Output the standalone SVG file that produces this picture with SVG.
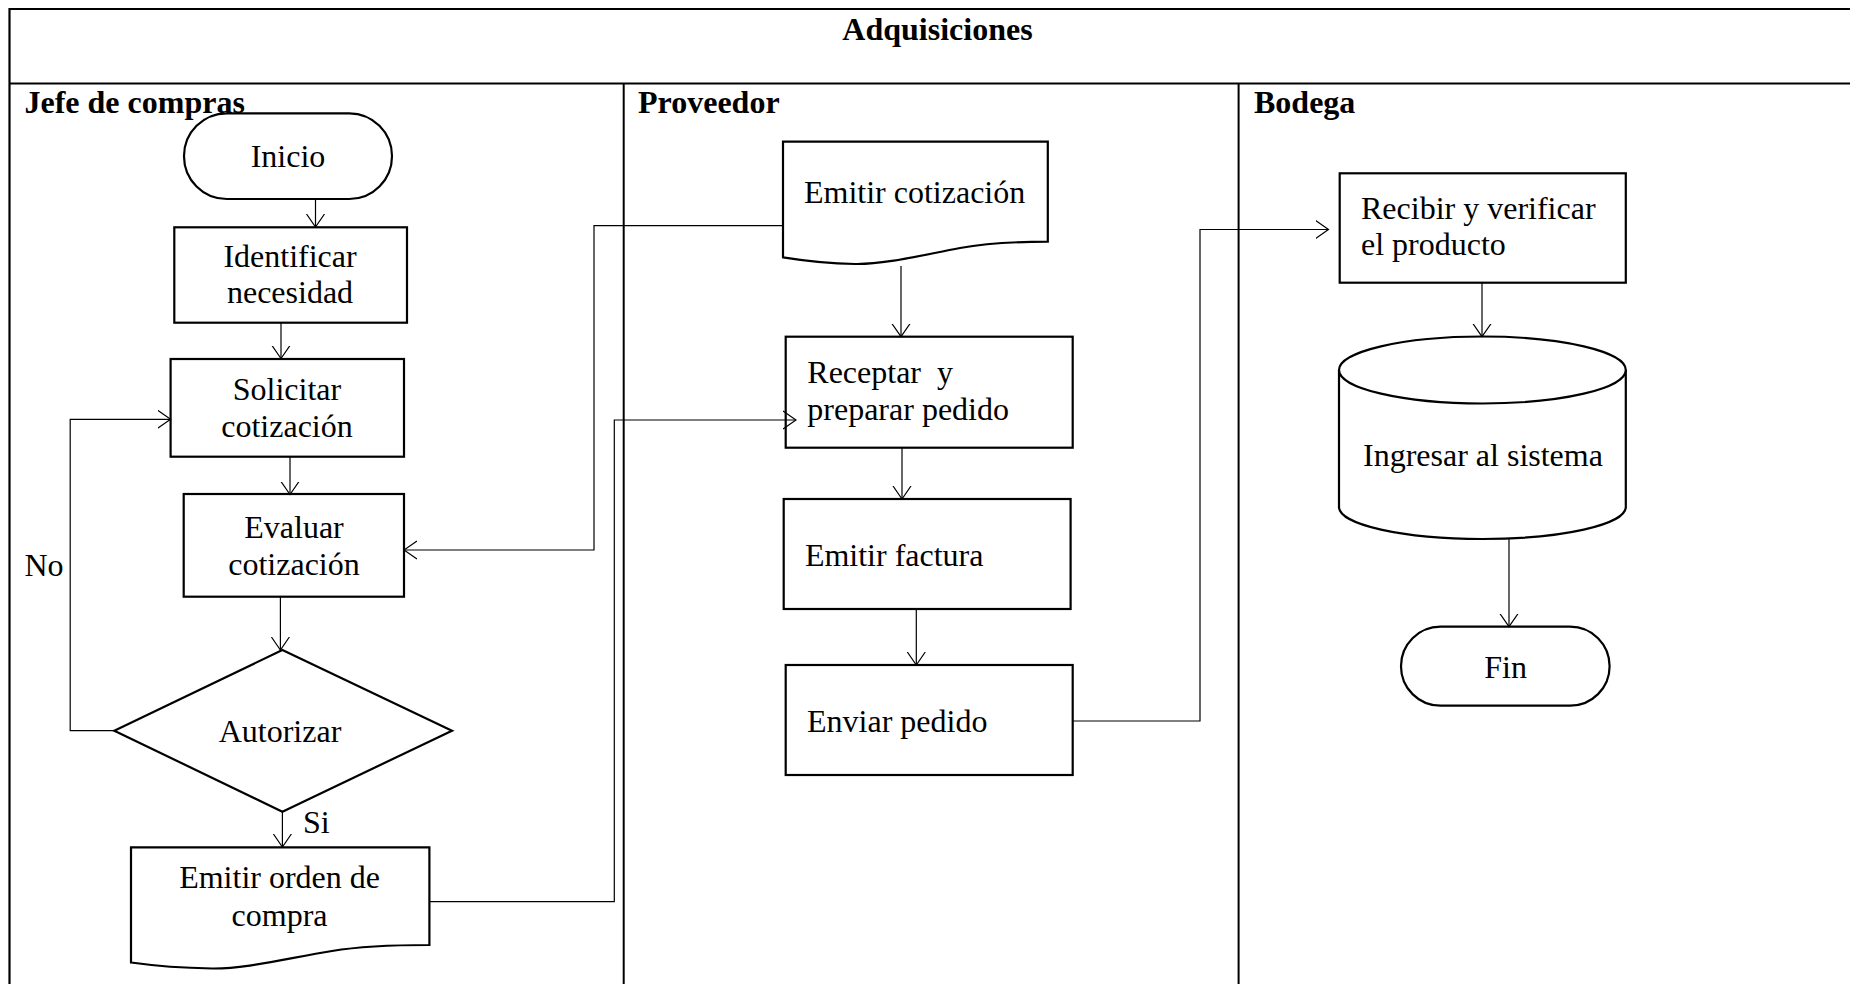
<svg xmlns="http://www.w3.org/2000/svg" width="1850" height="984" viewBox="0 0 1850 984">
<style>
  .frame { stroke: #000; stroke-width: 2.2; fill: none; }
  .lane { stroke: #000; stroke-width: 2; fill: none; }
  .shape { stroke: #000; stroke-width: 2.2; fill: #fff; }
  .conn { stroke: #000; stroke-width: 1.2; fill: none; }
  .t { font-family: "Liberation Serif", "Times New Roman", serif; font-size: 32px; fill: #000; }
  .c { text-anchor: middle; }
  .b { font-weight: bold; }
</style>
<defs>
  <marker id="arr" viewBox="0 0 14 20" refX="13" refY="10" markerWidth="14" markerHeight="20" markerUnits="userSpaceOnUse" orient="auto">
    <path d="M0,1 L13,10 L0,19" fill="none" stroke="#000" stroke-width="1.2"/>
  </marker>
</defs>
<rect width="1850" height="984" fill="#fff"/>

<g id="frame">
  <line class="frame" x1="9.5" y1="9" x2="1850" y2="9"/>
  <line class="frame" x1="9.5" y1="83.5" x2="1850" y2="83.5"/>
  <line class="frame" x1="9.5" y1="8" x2="9.5" y2="984"/>
  <line class="lane" x1="623.7" y1="83.5" x2="623.7" y2="984"/>
  <line class="lane" x1="1238.6" y1="83.5" x2="1238.6" y2="984"/>
  <text class="t b c" x="937.5" y="40">Adquisiciones</text>
  <text class="t b" x="24.5" y="113">Jefe de compras</text>
  <text class="t b" x="638" y="113">Proveedor</text>
  <text class="t b" x="1254" y="113">Bodega</text>
</g>

<g id="inicio">
  <rect class="shape" x="184" y="113.3" width="208" height="85.7" rx="42.8"/>
  <text class="t c" x="288" y="166.7">Inicio</text>
</g>
<g id="identificar">
  <rect class="shape" x="174.3" y="227.3" width="232.7" height="95.4"/>
  <text class="t c" x="290" y="266.7">Identificar</text>
  <text class="t c" x="290" y="303.3">necesidad</text>
</g>
<g id="solicitar">
  <rect class="shape" x="170.6" y="359" width="233.4" height="97.7"/>
  <text class="t c" x="287" y="400">Solicitar</text>
  <text class="t c" x="287" y="437.3">cotización</text>
</g>
<g id="evaluar">
  <rect class="shape" x="183.7" y="494" width="220.3" height="102.7"/>
  <text class="t c" x="294" y="538.3">Evaluar</text>
  <text class="t c" x="294" y="575">cotización</text>
</g>
<g id="autorizar">
  <polygon class="shape" points="282.4,650 452,730.7 282.4,811.7 114.3,730.7"/>
  <text class="t c" x="280" y="741.7">Autorizar</text>
</g>
<g id="labels">
  <text class="t" x="24.5" y="576">No</text>
  <text class="t" x="302.9" y="833.3">Si</text>
</g>
<g id="emitir-orden">
  <path class="shape" d="M131,847.3 H429.4 V945 C392,945 362,946 332,951 C284,959 244,969 212,968.5 C182,968 156,966 131,962.5 Z"/>
  <text class="t c" x="279.6" y="888.3">Emitir orden de</text>
  <text class="t c" x="279.6" y="926">compra</text>
</g>

<g id="emitir-cotizacion">
  <path class="shape" d="M783,141.7 H1047.8 V241.7 C1014,241.7 988,243 960,248 C918,256 884,264.5 855,264 C828,263.5 806,261 783,257.3 Z"/>
  <text class="t" x="804" y="202.7">Emitir cotización</text>
</g>
<g id="receptar">
  <rect class="shape" x="785.7" y="336.7" width="287" height="111"/>
  <text class="t" x="807.3" y="383.3" xml:space="preserve">Receptar  y</text>
  <text class="t" x="807.3" y="420">preparar pedido</text>
</g>
<g id="emitir-factura">
  <rect class="shape" x="783.7" y="499" width="286.9" height="110"/>
  <text class="t" x="804.9" y="566">Emitir factura</text>
</g>
<g id="enviar-pedido">
  <rect class="shape" x="785.7" y="665" width="287" height="110"/>
  <text class="t" x="807" y="731.7">Enviar pedido</text>
</g>

<g id="recibir">
  <rect class="shape" x="1339.7" y="173.3" width="286.1" height="109.4"/>
  <text class="t" x="1361" y="219.3">Recibir y verificar</text>
  <text class="t" x="1361" y="255">el producto</text>
</g>
<g id="ingresar">
  <path class="shape" d="M1339,370 V507 A143.4,32 0 0 0 1625.8,507 V370 A143.4,33.5 0 0 0 1339,370 Z"/>
  <path class="shape" d="M1339,370 A143.4,33.5 0 0 0 1625.8,370" fill="none"/>
  <text class="t" x="1363" y="466">Ingresar al sistema</text>
</g>
<g id="fin">
  <rect class="shape" x="1401" y="626.7" width="208.6" height="79" rx="39.5"/>
  <text class="t c" x="1505.6" y="678.3">Fin</text>
</g>

<g id="connectors">
  <line class="conn" x1="315.5" y1="199" x2="315.5" y2="227" marker-end="url(#arr)"/>
  <line class="conn" x1="281" y1="323" x2="281" y2="358.5" marker-end="url(#arr)"/>
  <line class="conn" x1="290" y1="457" x2="290" y2="494.5" marker-end="url(#arr)"/>
  <line class="conn" x1="280.4" y1="597" x2="280.4" y2="650" marker-end="url(#arr)"/>
  <line class="conn" x1="282.4" y1="812" x2="282.4" y2="847" marker-end="url(#arr)"/>
  <polyline class="conn" points="114,730.7 70.2,730.7 70.2,419.3 170.6,419.3" marker-end="url(#arr)"/>
  <polyline class="conn" points="783,225.7 594,225.7 594,550 404,550" marker-end="url(#arr)"/>
  <polyline class="conn" points="429.4,901.7 614.3,901.7 614.3,420 796,420" marker-end="url(#arr)"/>
  <line class="conn" x1="901" y1="266" x2="901" y2="336.7" marker-end="url(#arr)"/>
  <line class="conn" x1="902" y1="447.7" x2="902" y2="499" marker-end="url(#arr)"/>
  <line class="conn" x1="916.3" y1="609" x2="916.3" y2="665" marker-end="url(#arr)"/>
  <polyline class="conn" points="1072.7,721 1200,721 1200,229.5 1328.5,229.5" marker-end="url(#arr)"/>
  <line class="conn" x1="1482" y1="283" x2="1482" y2="336.7" marker-end="url(#arr)"/>
  <line class="conn" x1="1509" y1="539" x2="1509" y2="626.7" marker-end="url(#arr)"/>
</g>
</svg>
